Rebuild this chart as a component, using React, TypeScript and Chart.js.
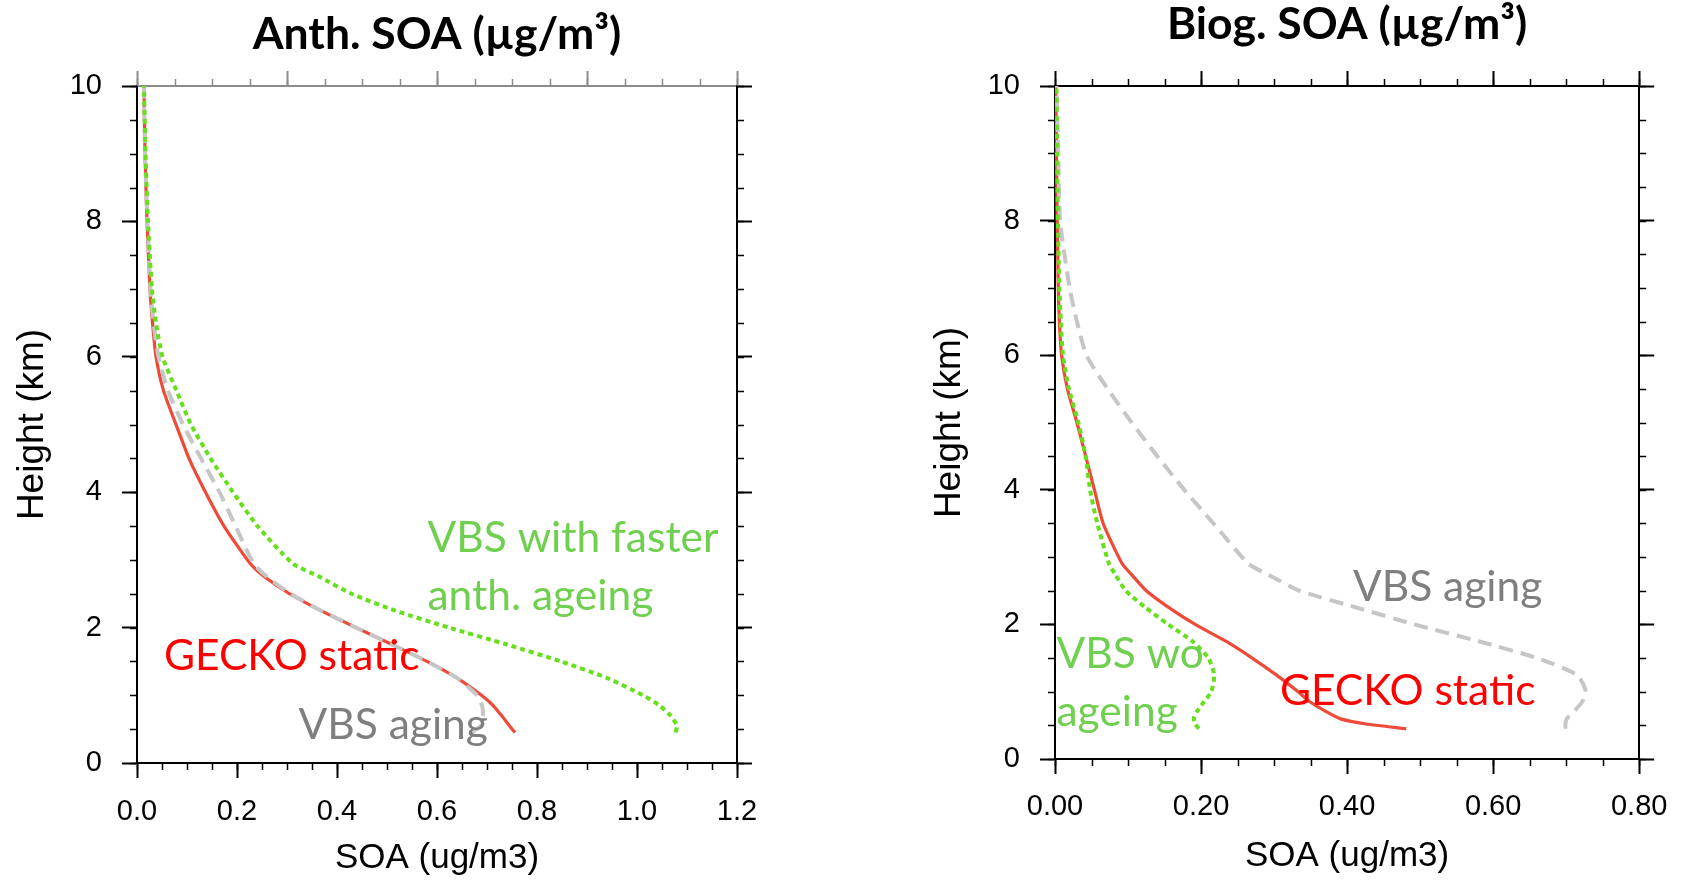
import React, { useEffect, useRef } from "react";
import { Chart, registerables } from "chart.js";

Chart.register(...registerables);
Chart.defaults.font.family = "Liberation Sans";

// ---------------- Data: Anthropogenic SOA panel ----------------
const anthHeights = [0.45, 0.55, 0.7, 0.85, 1.0, 1.25, 1.5, 1.75, 2.0, 2.25, 2.5, 2.75, 2.95, 3.5, 4.0, 4.5, 5.0, 5.5, 6.0, 6.5, 7.0, 8.0, 9.0, 10.0];
const anthGeckoStatic = [0.756, 0.745, 0.729, 0.712, 0.689, 0.641, 0.58, 0.51, 0.438, 0.368, 0.305, 0.255, 0.226, 0.174, 0.137, 0.104, 0.078, 0.053, 0.038, 0.031, 0.026, 0.02, 0.016, 0.014];
const anthVbsAging = [0.668, 0.688, 0.692, 0.69, 0.68, 0.641, 0.58, 0.51, 0.438, 0.368, 0.307, 0.26, 0.233, 0.197, 0.165, 0.128, 0.092, 0.062, 0.043, 0.033, 0.027, 0.021, 0.016, 0.014];
const anthVbsFaster = [1.077, 1.08, 1.067, 1.045, 1.012, 0.942, 0.848, 0.74, 0.624, 0.517, 0.429, 0.365, 0.311, 0.241, 0.192, 0.147, 0.108, 0.079, 0.051, 0.038, 0.03, 0.022, 0.017, 0.014];

// ---------------- Data: Biogenic SOA panel ----------------
const biogHeights = [0.45, 0.52, 0.6, 0.7, 0.85, 1.0, 1.25, 1.5, 1.75, 2.0, 2.25, 2.5, 2.75, 2.9, 3.5, 4.0, 4.5, 5.0, 5.5, 6.0, 6.5, 7.0, 8.0, 9.0, 10.0];
const biogGeckoStatic = [0.481, 0.426, 0.39, 0.372, 0.349, 0.333, 0.303, 0.27, 0.234, 0.192, 0.156, 0.125, 0.104, 0.092, 0.066, 0.054, 0.042, 0.03, 0.017, 0.009, 0.006, 0.0045, 0.003, 0.002, 0.001];
const biogVbsAging = [0.699, 0.699, 0.701, 0.71, 0.722, 0.727, 0.715, 0.66, 0.58, 0.492, 0.413, 0.335, 0.29, 0.265, 0.217, 0.177, 0.14, 0.105, 0.072, 0.043, 0.03, 0.02, 0.007, 0.0045, 0.002];
const biogVbsWoAgeing = [0.197, 0.192, 0.19, 0.194, 0.204, 0.214, 0.218, 0.21, 0.188, 0.155, 0.124, 0.097, 0.082, 0.074, 0.058, 0.048, 0.042, 0.032, 0.019, 0.011, 0.008, 0.006, 0.004, 0.003, 0.002];

// ---------------- Ticks ----------------
const anthXTicks = [0, 0.2, 0.4, 0.6, 0.8, 1.0, 1.2];
const anthXLabels = ["0.0", "0.2", "0.4", "0.6", "0.8", "1.0", "1.2"];
const anthTopTicks = [0, 0.3, 0.6, 0.9, 1.2];
const biogXTicks = [0, 0.2, 0.4, 0.6, 0.8];
const biogXLabels = ["0.00", "0.20", "0.40", "0.60", "0.80"];
const heightTicks = [0, 2, 4, 6, 8, 10];
const heightLabels = ["0", "2", "4", "6", "8", "10"];

// ---------------- Styles ----------------
const STYLE = {
  gecko: { color: "#ee4a38", width: 3.2, dash: [] as number[] },
  aging: { color: "#c6c6c6", width: 4, dash: [14, 8] },
  green: { color: "#66e01a", width: 4, dash: [5, 4] },
};
const TEXT_GREEN = "#6fcf4e";
const TEXT_RED = "#ff0000";
const TEXT_GRAY = "#7f7f7f";

type SeriesDef = { label: string; heights: number[]; values: number[]; style: keyof typeof STYLE };

const anthPanel = {
  title: "Anth. SOA (\u00b5g/m\u00b3)",
  canvasLeft: 0,
  canvasWidth: 800,
  area: { left: 137, right: 737, top: 86, bottom: 763 },
  titlePadTop: 12,
  yTitlePad: 10.8,
  xTitlePad: 0.5,
  xTickPad: 16.6,
  xMax: 1.2,
  xTicks: anthXTicks,
  xLabels: anthXLabels,
  topTicks: anthTopTicks,
  xMinorStep: 0.05,
  topMinorStep: 0.075,
  topColor: "#8c8c8c",
  series: [
    { label: "VBS with faster anth. ageing", heights: anthHeights, values: anthVbsFaster, style: "green" },
    { label: "VBS aging", heights: anthHeights, values: anthVbsAging, style: "aging" },
    { label: "GECKO static", heights: anthHeights, values: anthGeckoStatic, style: "gecko" },
  ] as SeriesDef[],
  notes: [
    { text: "VBS with faster", x: 0.581, y: 3.11, color: TEXT_GREEN },
    { text: "anth. ageing", x: 0.581, y: 2.26, color: TEXT_GREEN },
    { text: "GECKO static", x: 0.054, y: 1.37, color: TEXT_RED },
    { text: "VBS aging", x: 0.323, y: 0.35, color: TEXT_GRAY },
  ],
};

const biogPanel = {
  title: "Biog. SOA (\u00b5g/m\u00b3)",
  canvasLeft: 900,
  canvasWidth: 783,
  area: { left: 155, right: 750, top: 86, bottom: 759 },
  titlePadTop: 2,
  yTitlePad: 27.8,
  xTitlePad: 2.5,
  xTickPad: 15.6,
  xMax: 0.8,
  xTicks: biogXTicks,
  xLabels: biogXLabels,
  topTicks: biogXTicks,
  xMinorStep: 0.05,
  topMinorStep: 0.05,
  topColor: "#000000",
  series: [
    { label: "VBS wo ageing", heights: biogHeights, values: biogVbsWoAgeing, style: "green" },
    { label: "VBS aging", heights: biogHeights, values: biogVbsAging, style: "aging" },
    { label: "GECKO static", heights: biogHeights, values: biogGeckoStatic, style: "gecko" },
  ] as SeriesDef[],
  notes: [
    { text: "VBS aging", x: 0.408, y: 2.35, color: TEXT_GRAY },
    { text: "VBS wo", x: 0.002, y: 1.35, color: TEXT_GREEN },
    { text: "ageing", x: 0.002, y: 0.496, color: TEXT_GREEN },
    { text: "GECKO static", x: 0.308, y: 0.8, color: TEXT_RED },
  ],
};

type Panel = typeof anthPanel;

const TITLE_SIZE = 44.5;
const MAJOR_LEN = 15;
const MINOR_LEN = 7;

function makeMinorTicksPlugin(specs: { scale: string; step: number; color: string }[]) {
  return {
    id: "minorTicks",
    afterDraw(chart: any) {
      const ctx = chart.ctx as CanvasRenderingContext2D;
      specs.forEach((sp) => {
        const sc = chart.scales[sp.scale];
        if (!sc) return;
        ctx.save();
        ctx.strokeStyle = sp.color;
        ctx.lineWidth = 1.5;
        ctx.beginPath();
        const n = Math.round((sc.max - sc.min) / sp.step);
        for (let i = 0; i <= n; i++) {
          const v = sc.min + i * sp.step;
          const p = Math.round(sc.getPixelForValue(v)) + 0.5;
          if (sc.position === "left") {
            ctx.moveTo(sc.right, p);
            ctx.lineTo(sc.right - MINOR_LEN, p);
          } else if (sc.position === "right") {
            ctx.moveTo(sc.left, p);
            ctx.lineTo(sc.left + MINOR_LEN, p);
          } else if (sc.position === "top") {
            ctx.moveTo(p, sc.bottom);
            ctx.lineTo(p, sc.bottom - MINOR_LEN);
          } else {
            ctx.moveTo(p, sc.top);
            ctx.lineTo(p, sc.top + MINOR_LEN);
          }
        }
        ctx.stroke();
        ctx.restore();
      });
    },
  };
}

function makeTextPlugin(notes: { text: string; x: number; y: number; color: string }[]) {
  return {
    id: "profileNotes",
    afterDatasetsDraw(chart: any) {
      const ctx = chart.ctx as CanvasRenderingContext2D;
      const xs = chart.scales.x;
      const ys = chart.scales.y;
      ctx.save();
      ctx.font = "42.5px Lato";
      ctx.textAlign = "left";
      ctx.textBaseline = "alphabetic";
      notes.forEach((n) => {
        ctx.fillStyle = n.color;
        ctx.fillText(n.text, xs.getPixelForValue(n.x), ys.getPixelForValue(n.y));
      });
      ctx.restore();
    },
  };
}

function setTicks(values: number[]) {
  return (s: any) => {
    s.ticks = values.map((v) => ({ value: v }));
  };
}

function ProfileChart({ panel }: { panel: Panel }) {
  const ref = useRef<HTMLCanvasElement>(null);

  useEffect(() => {
    const p = panel;
    const tickFont = { family: "Liberation Sans", size: 29 };
    const majorGrid = (color: string) => ({
      display: true,
      drawOnChartArea: false,
      drawTicks: true,
      tickLength: MAJOR_LEN,
      tickWidth: 2,
      tickColor: color,
      color,
    });
    const border = (color: string) => ({ display: true, color, width: 2 });
    const titleBox = TITLE_SIZE + p.titlePadTop;

    const chart = new Chart(ref.current as HTMLCanvasElement, {
      type: "scatter",
      data: {
        datasets: p.series.map((s) => ({
          label: s.label,
          data: s.heights.map((h, i) => ({ x: s.values[i], y: h })),
          showLine: true,
          pointRadius: 0,
          pointHoverRadius: 0,
          borderColor: STYLE[s.style].color,
          backgroundColor: STYLE[s.style].color,
          borderWidth: STYLE[s.style].width,
          borderDash: STYLE[s.style].dash,
          tension: 0.2,
          fill: false,
          xAxisID: "x",
          yAxisID: "y",
        })),
      },
      options: {
        responsive: false,
        animation: false,
        devicePixelRatio: 1,
        events: [],
        layout: { padding: 0 },
        plugins: {
          legend: { display: false },
          tooltip: { enabled: false },
          title: {
            display: true,
            text: p.title,
            fullSize: false,
            color: "#000",
            font: { family: "Lato", size: TITLE_SIZE, weight: "bold", lineHeight: 1 },
            padding: { top: p.titlePadTop, bottom: 0 },
          },
        },
        scales: {
          x: {
            type: "linear",
            position: "bottom",
            min: 0,
            max: p.xMax,
            afterBuildTicks: setTicks(p.xTicks),
            afterFit: (s: any) => {
              s.height = 880 - p.area.bottom;
            },
            ticks: {
              callback: (_v: any, i: number) => p.xLabels[i],
              font: tickFont,
              color: "#000",
              padding: p.xTickPad,
              maxRotation: 0,
              autoSkip: false,
            },
            grid: majorGrid("#000"),
            border: border("#000"),
            title: {
              display: true,
              text: "SOA (ug/m3)",
              color: "#000",
              font: { family: "Liberation Sans", size: 35 },
              padding: { top: 0, bottom: p.xTitlePad },
            },
          },
          x2: {
            type: "linear",
            axis: "x",
            position: "top",
            min: 0,
            max: p.xMax,
            afterBuildTicks: setTicks(p.topTicks),
            afterFit: (s: any) => {
              s.height = p.area.top - titleBox;
            },
            ticks: { display: false },
            grid: majorGrid(p.topColor),
            border: border(p.topColor),
          },
          y: {
            type: "linear",
            position: "left",
            min: 0,
            max: 10,
            afterBuildTicks: setTicks(heightTicks),
            afterFit: (s: any) => {
              s.width = p.area.left;
            },
            ticks: {
              callback: (_v: any, i: number) => heightLabels[i],
              font: tickFont,
              color: "#000",
              padding: 20,
              autoSkip: false,
            },
            grid: majorGrid("#000"),
            border: border("#000"),
            title: {
              display: true,
              text: "Height (km)",
              color: "#000",
              font: { family: "Liberation Sans", size: 37 },
              padding: { top: p.yTitlePad, bottom: 0 },
            },
          },
          y2: {
            type: "linear",
            axis: "y",
            position: "right",
            min: 0,
            max: 10,
            afterBuildTicks: setTicks(heightTicks),
            afterFit: (s: any) => {
              s.width = p.canvasWidth - p.area.right;
            },
            ticks: { display: false },
            grid: majorGrid("#000"),
            border: border("#000"),
          },
        },
      } as any,
      plugins: [
        makeMinorTicksPlugin([
          { scale: "x", step: p.xMinorStep, color: "#000" },
          { scale: "x2", step: p.topMinorStep, color: p.topColor },
          { scale: "y", step: 0.5, color: "#000" },
          { scale: "y2", step: 0.5, color: "#000" },
        ]),
        makeTextPlugin(p.notes),
      ],
    });
    return () => chart.destroy();
  }, [panel]);

  return (
    <canvas
      ref={ref}
      width={panel.canvasWidth}
      height={880}
      style={{ position: "absolute", left: panel.canvasLeft, top: 0, width: panel.canvasWidth, height: 880 }}
    />
  );
}

export default function App() {
  return (
    <div
      style={{
        position: "fixed",
        left: 0,
        top: 0,
        width: 1683,
        height: 880,
        background: "#ffffff",
        overflow: "hidden",
      }}
    >
      <ProfileChart panel={anthPanel} />
      <ProfileChart panel={biogPanel} />
    </div>
  );
}
